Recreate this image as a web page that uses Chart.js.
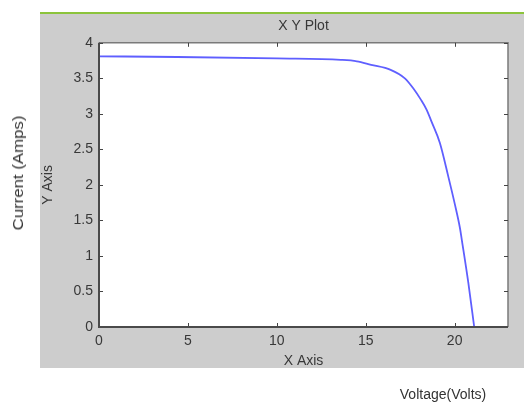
<!DOCTYPE html>
<html>
<head>
<meta charset="utf-8">
<script src="https://cdn.jsdelivr.net/npm/chart.js@4"></script>
<style>
  html, body { margin: 0; padding: 0; background: #fff; }
  #wrap { position: relative; width: 524px; height: 403px; }
  .outer { position: absolute; font-family: "Liberation Sans", Arial, sans-serif; font-size: 14px; color: #333; white-space: nowrap; }
  #ylab { left: 18px; top: 173px; transform: translate(-50%, -50%) rotate(-90deg) scaleX(1.2); }
  #xlab { left: 443px; top: 394px; transform: translate(-50%, -50%); }
</style>
</head>
<body>
<div id="wrap">
  <canvas id="chart" width="524" height="403"></canvas>
  <div class="outer" id="ylab">Current (Amps)</div>
  <div class="outer" id="xlab">Voltage(Volts)</div>
</div>
<script>
'use strict';

// I-V curve
const voltage = [0, 4.4, 10, 13.6, 14.5, 15.3, 16.4, 17.2, 17.67, 18.1, 18.42, 18.7, 19.17, 19.64, 20.0, 20.3, 20.4, 20.77, 21.1];
const current = [3.81, 3.80, 3.78, 3.76, 3.74, 3.69, 3.62, 3.50, 3.36, 3.20, 3.06, 2.89, 2.59, 2.12, 1.74, 1.39, 1.23, 0.62, 0];

const xTickValues = [0, 5, 10, 15, 20];
const yTickValues = [0, 0.5, 1, 1.5, 2, 2.5, 3, 3.5, 4];

const FONT = { family: '"Liberation Sans", Arial, sans-serif', size: 14, weight: 'normal' };
const TEXT_COLOR = '#383838';

// gray matlab figure, white axes, inward ticks on all four sides
const matlabFrame = {
    id: 'matlabFrame',
    beforeDraw(chart) {
        const ctx = chart.ctx;
        const a = chart.chartArea;
        ctx.save();
        ctx.fillStyle = '#fff';
        ctx.fillRect(0, 0, chart.width, chart.height);
        ctx.fillStyle = '#cdcdcd';
        ctx.fillRect(40, 13, chart.width - 40, 355);
        ctx.fillStyle = '#8cc43c';
        ctx.fillRect(40, 12, chart.width - 40, 2);
        ctx.fillStyle = '#fff';
        ctx.fillRect(a.left, a.top, a.right - a.left, a.bottom - a.top);
        ctx.restore();
    },
    afterDatasetsDraw(chart) {
        const ctx = chart.ctx;
        const a = chart.chartArea;
        const xs = chart.scales.x;
        const ys = chart.scales.y;
        ctx.save();
        // top + right border
        ctx.strokeStyle = '#7a7a7a';
        ctx.lineWidth = 1.5;
        ctx.beginPath();
        ctx.moveTo(a.left, a.top);
        ctx.lineTo(a.right, a.top);
        ctx.lineTo(a.right, a.bottom);
        ctx.stroke();
        // ticks
        ctx.strokeStyle = '#444';
        ctx.lineWidth = 1;
        ctx.beginPath();
        xTickValues.forEach(v => {
            const px = Math.round(xs.getPixelForValue(v)) + 0.5;
            ctx.moveTo(px, a.bottom); ctx.lineTo(px, a.bottom - 4);
            ctx.moveTo(px, a.top); ctx.lineTo(px, a.top + 4);
        });
        yTickValues.forEach(v => {
            const py = Math.round(ys.getPixelForValue(v)) + 0.5;
            ctx.moveTo(a.left, py); ctx.lineTo(a.left + 4, py);
            ctx.moveTo(a.right, py); ctx.lineTo(a.right - 4, py);
        });
        ctx.stroke();
        // left + bottom axis
        ctx.strokeStyle = '#4a4a4a';
        ctx.lineWidth = 2;
        ctx.beginPath();
        ctx.moveTo(a.left, a.top);
        ctx.lineTo(a.left, a.bottom);
        ctx.lineTo(a.right, a.bottom);
        ctx.stroke();
        ctx.restore();
    }
};

new Chart(document.getElementById('chart'), {
    type: 'scatter',
    data: {
        datasets: [{
            data: voltage.map((v, i) => ({ x: v, y: current[i] })),
            showLine: true,
            borderColor: 'rgb(95, 95, 255)',
            borderWidth: 1.8,
            pointRadius: 0,
            cubicInterpolationMode: 'monotone'
        }]
    },
    options: {
        responsive: false,
        animation: false,
        layout: { padding: { left: 40, right: 16, top: 13, bottom: 0 } },
        plugins: {
            legend: { display: false },
            tooltip: { enabled: false },
            title: {
                display: true,
                text: 'X Y Plot',
                fullSize: false,
                color: TEXT_COLOR,
                font: FONT,
                padding: { top: 5, bottom: 8 }
            }
        },
        scales: {
            x: {
                type: 'linear',
                min: 0,
                max: 23,
                afterBuildTicks: s => { s.ticks = xTickValues.map(v => ({ value: v })); },
                afterFit: s => { s.height = 76; },
                grid: { display: false, drawTicks: false },
                border: { display: false },
                ticks: { padding: 6, color: TEXT_COLOR, font: FONT, maxRotation: 0, callback: v => String(v) },
                title: { display: true, text: 'X Axis', color: TEXT_COLOR, font: FONT, padding: { top: 0, bottom: 33 } }
            },
            y: {
                min: 0,
                max: 4,
                afterBuildTicks: s => { s.ticks = yTickValues.map(v => ({ value: v })); },
                afterFit: s => { s.width = 59; },
                grid: { display: false, drawTicks: false },
                border: { display: false },
                ticks: { padding: 6, color: TEXT_COLOR, font: FONT, callback: v => String(v) },
                title: { display: true, text: 'Y Axis', color: TEXT_COLOR, font: FONT, padding: { top: 0, bottom: 0 } }
            }
        }
    },
    plugins: [matlabFrame]
});
</script>
</body>
</html>
